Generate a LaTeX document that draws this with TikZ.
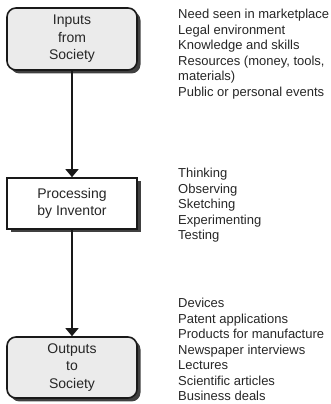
\documentclass[tikz,border=0pt]{standalone}
\usepackage{fontspec}
\setmainfont{Liberation Sans}
\usetikzlibrary{arrows.meta,shadows}

\begin{document}
\begin{tikzpicture}[x=1pt,y=1pt,
    boxtext/.style={align=center,text=black!85,font=\fontsize{14}{17.5}\selectfont},
    roundbox/.style={boxtext,draw=black!90,line width=1.6pt,rounded corners=9pt,fill=black!8,
      minimum width=130pt,drop shadow={shadow xshift=3.5pt,shadow yshift=-3.5pt,fill=black,opacity=0.75}},
    plainbox/.style={boxtext,draw=black!90,line width=1.6pt,fill=white,
      minimum width=130pt,drop shadow={shadow xshift=3.5pt,shadow yshift=-3.5pt,fill=black,opacity=0.75}},
    notes/.style={align=left,anchor=north west,inner sep=0pt,text=black!85,font=\fontsize{13}{15.5}\selectfont},
    flow/.style={-{Triangle[width=13pt,length=8pt]},line width=1.3pt,black!90}]
  \useasboundingbox (0,0) rectangle (330,404);
  \node[roundbox,minimum height=62pt] (inputs) at (72,365) {Inputs\\from\\Society};
  \node[plainbox,minimum height=51pt] (processing) at (72,200.5) {Processing\\by Inventor};
  \node[roundbox,minimum height=61pt] (outputs) at (72,36.5) {Outputs\\to\\Society};
  \draw[flow] (inputs) -- (processing);
  \draw[flow] (processing) -- (outputs);
  \node[notes] (innotes) at (178,395) {Need seen in marketplace\\Legal environment\\Knowledge and skills\\Resources (money, tools,\\materials)\\Public or personal events};
  \node[notes] (procnotes) at (178,236) {Thinking\\Observing\\Sketching\\Experimenting\\Testing};
  \node[notes] (outnotes) at (178,106) {Devices\\Patent applications\\Products for manufacture\\Newspaper interviews\\Lectures\\Scientific articles\\Business deals};
\end{tikzpicture}
\end{document}
